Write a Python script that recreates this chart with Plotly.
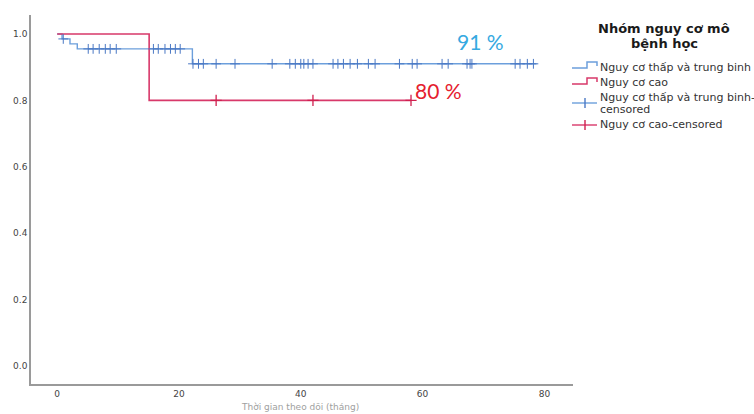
import plotly.graph_objects as go

# Kaplan-Meier curves by histopathological risk group
low_event_times = [0.0, 0.8, 2.1, 3.3, 22.2]
low_survival = [1.0, 0.985, 0.970, 0.955, 0.910]
low_end_time = 78.7

high_event_times = [0.0, 15.1]
high_survival = [1.0, 0.80]
high_end_time = 58.1

low_censor_times = [1.0, 5.1, 5.9, 6.9, 7.9, 8.7, 9.7,
                    15.8, 16.6, 17.7, 18.6, 19.4, 20.2,
                    22.3, 23.2, 24.0, 26.1, 29.2, 35.3, 38.2, 39.1, 40.0, 40.5,
                    41.2, 42.0, 45.3, 46.1, 47.0, 48.1, 49.3, 51.1, 52.2, 56.2,
                    58.3, 59.1, 63.2, 64.2, 67.3, 67.8, 68.1, 75.2, 76.0, 77.2, 78.2]
high_censor_times = [26.1, 42.0, 58.1]

legend_title_lines = ["Nhóm nguy cơ mô", "bệnh học"]
legend_labels = ["Nguy cơ thấp và trung binh", "Nguy cơ cao",
                 "Nguy cơ thấp và trung binh-", "censored", "Nguy cơ cao-censored"]
final_labels = ["91 %", "80 %"]
x_title = "Thời gian theo dõi (tháng)"

x_ticks = [0, 20, 40, 60, 80]
y_ticks = [0.0, 0.2, 0.4, 0.6, 0.8, 1.0]

BLUE_LINE = "#6C9FDC"
BLUE_MARK = "#4A78C4"
RED_LINE = "#D8386A"
RED_MARK = "#D0204F"
FONT = "DejaVu Sans, Liberation Sans, Arial"

# plot area in pixels (left, right, top, bottom) of the 754x414 page
PL, PR, PT, PB = 31, 573, 15, 384


def px(xp):
    return (xp - PL) / (PR - PL)


def py(yp):
    return (PB - yp) / (PB - PT)


def step_points(times, surv, end):
    xs = list(times) + [end]
    ys = list(surv) + [surv[-1]]
    return xs, ys


def surv_at(times, surv, t):
    s = surv[0]
    for ti, si in zip(times, surv):
        if ti <= t:
            s = si
    return s


fig = go.Figure()

lx, ly = step_points(low_event_times, low_survival, low_end_time)
hx, hy = step_points(high_event_times, high_survival, high_end_time)

fig.add_trace(go.Scatter(x=lx, y=ly, mode="lines", line_shape="hv",
                         line=dict(color=BLUE_LINE, width=1.4), showlegend=False))
fig.add_trace(go.Scatter(x=hx, y=hy, mode="lines", line_shape="hv",
                         line=dict(color=RED_LINE, width=1.6), showlegend=False))

fig.add_trace(go.Scatter(
    x=low_censor_times,
    y=[surv_at(low_event_times, low_survival, t) for t in low_censor_times],
    mode="markers", showlegend=False,
    marker=dict(symbol="cross-thin", size=7, line=dict(color=BLUE_MARK, width=1.0))))
fig.add_trace(go.Scatter(
    x=high_censor_times,
    y=[surv_at(high_event_times, high_survival, t) for t in high_censor_times],
    mode="markers", showlegend=False,
    marker=dict(symbol="cross-thin", size=8, line=dict(color=RED_MARK, width=1.3))))

fig.add_annotation(x=65.3, y=low_survival[-1], yshift=22, text=final_labels[0],
                   showarrow=False, xanchor="left", yanchor="middle",
                   font=dict(family="Lato, Open Sans, sans-serif", size=21, color="#36A9E1"))
fig.add_annotation(x=58.4, y=high_survival[-1], yshift=10, text=final_labels[1],
                   showarrow=False, xanchor="left", yanchor="middle",
                   font=dict(family="Lato, Open Sans, sans-serif", size=21, color="#E5202E"))

# legend drawn beside the plot: title, glyphs and labels
for text, yc in zip(legend_title_lines, [29, 44]):
    fig.add_annotation(xref="paper", yref="paper", x=px(664), y=py(yc), text=f"<b>{text}</b>",
                       showarrow=False, xanchor="center", yanchor="middle",
                       font=dict(family=FONT, size=13, color="#1a1a1a"))

for text, yc in zip(legend_labels, [67, 82, 97, 109, 125]):
    fig.add_annotation(xref="paper", yref="paper", x=px(598), y=py(yc), text=text,
                       showarrow=False, xanchor="left", yanchor="middle",
                       font=dict(family=FONT, size=11, color="#333"))


def glyph_path(points):
    return "M" + " L".join(f"{px(a):.5f},{py(b):.5f}" for a, b in points)


step_glyph = [(572, 0), (587, 0), (587, -6), (597, -6), (597, -2)]
for base, col in [(68, BLUE_LINE), (84, RED_LINE)]:
    fig.add_shape(type="path", xref="paper", yref="paper",
                  path=glyph_path([(a, base + b) for a, b in step_glyph]),
                  line=dict(color=col, width=1.5))

for yc, col, mcol in [(103, BLUE_LINE, BLUE_MARK), (125, RED_LINE, RED_MARK)]:
    fig.add_shape(type="line", xref="paper", yref="paper",
                  x0=px(572), x1=px(597), y0=py(yc), y1=py(yc),
                  line=dict(color=col, width=1.4))
    fig.add_shape(type="line", xref="paper", yref="paper",
                  x0=px(585), x1=px(585), y0=py(yc - 5), y1=py(yc + 5),
                  line=dict(color=mcol, width=1.4))

# x-axis title along the bottom edge of the page
fig.add_annotation(xref="paper", yref="paper", x=px(300), y=py(414), text=x_title,
                   showarrow=False, xanchor="center", yanchor="bottom",
                   font=dict(family=FONT, size=9, color="#a0a0a0"))

axis_common = dict(showgrid=False, zeroline=False, showline=True, linecolor="#9a9a9a",
                   linewidth=1.6, ticks="",
                   tickfont=dict(family=FONT, size=9, color="#444"))

fig.update_layout(
    width=754, height=414,
    margin=dict(l=PL, r=754 - PR, t=PT, b=414 - PB, autoexpand=False),
    paper_bgcolor="white", plot_bgcolor="white",
    xaxis=dict(range=[-4.3, 84.7], tickvals=x_ticks, **axis_common),
    yaxis=dict(range=[-0.054, 1.057], tickvals=y_ticks, tickformat=".1f", **axis_common),
    showlegend=False,
)

fig.write_html("out.html")
